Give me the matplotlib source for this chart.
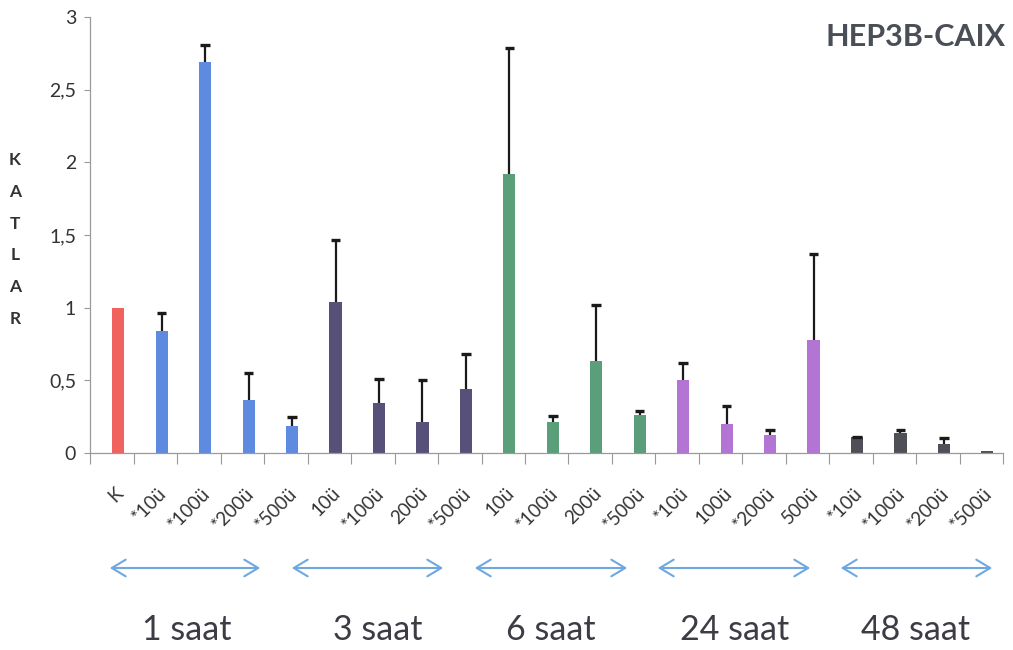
import matplotlib
matplotlib.use("Agg")
import matplotlib.pyplot as plt
import numpy as np

# Categories (doses) and groups (time points)
categories = ["K", "*10ü", "*100ü", "*200ü", "*500ü",
              "10ü", "*100ü", "200ü", "*500ü",
              "10ü", "*100ü", "200ü", "*500ü",
              "*10ü", "100ü", "*200ü", "500ü",
              "*10ü", "*100ü", "*200ü", "*500ü"]
groups = ["1 saat", "3 saat", "6 saat", "24 saat", "48 saat"]

# Fold change (mean) and upper error (SD)
values = [1.00, 0.84, 2.69, 0.365, 0.186,
          1.04, 0.346, 0.21, 0.44,
          1.92, 0.21, 0.633, 0.26,
          0.50, 0.197, 0.124, 0.778,
          0.108, 0.135, 0.06, 0.016]
errors = [0.0, 0.12, 0.12, 0.185, 0.064,
          0.426, 0.164, 0.29, 0.24,
          0.87, 0.045, 0.387, 0.03,
          0.117, 0.123, 0.034, 0.592,
          0.005, 0.023, 0.045, 0.0]

c_ctrl = "#F0625D"
c_1h = "#5E8BE0"
c_3h = "#575179"
c_6h = "#5A9E7A"
c_24h = "#B474D4"
c_48h = "#4F4F57"
bar_colors = ([c_ctrl] + [c_1h] * 4 + [c_3h] * 4 + [c_6h] * 4
              + [c_24h] * 4 + [c_48h] * 4)

W, H = 1013, 650
fig = plt.figure(figsize=(W / 100, H / 100), dpi=100)
plt.rcParams["font.family"] = ["Lato", "DejaVu Sans"]

ax = fig.add_axes([90 / W, 1 - 453 / H, (1003 - 90) / W, (453 - 17) / H])

x = np.arange(len(categories))
vals = np.array(values)
errs = np.array(errors)
ax.bar(x, vals, width=0.28, color=bar_colors, zorder=2)

# Upper-only error bars with a cap at the top
has_err = errs > 0
tops = vals + errs
ax.vlines(x[has_err], vals[has_err], tops[has_err], color="#1a1a1a",
          linewidth=1.6, zorder=3)
ax.hlines(tops[has_err], x[has_err] - 0.11, x[has_err] + 0.11,
          color="#1a1a1a", linewidth=2.4, zorder=3)

ax.set_xlim(-0.65, 20.33)
ax.set_ylim(0, 3)
ax.set_yticks([0, 0.5, 1, 1.5, 2, 2.5, 3])
ax.set_yticklabels(["0", "0,5", "1", "1,5", "2", "2,5", "3"])
ax.tick_params(axis="y", length=4, width=0.8, color="#999999",
               labelsize=14, labelcolor="#333333", pad=6)

ax.set_xticks(x + 0.05)
ax.set_xticklabels(categories, rotation=45, ha="right", va="center",
                   rotation_mode="anchor", fontsize=13.5, color="#333333")
ax.tick_params(axis="x", which="major", length=0, pad=27)
ax.set_xticks(np.arange(-0.64, 20.4, 1.0), minor=True)
ax.tick_params(axis="x", which="minor", length=8, width=0.8, color="#999999")

for side in ("top", "right"):
    ax.spines[side].set_visible(False)
for side in ("left", "bottom"):
    ax.spines[side].set_color("#9a9a9a")
    ax.spines[side].set_linewidth(0.9)

# Vertical stacked y-axis label
for i, ch in enumerate("KATLAR"):
    fig.text(15 / W, 1 - (160 + i * 31.8) / H, ch, ha="center", va="center",
             fontsize=12.5, fontweight="bold", color="#333333")

# Chart title
fig.text(1006 / W, 1 - 37 / H, "HEP3B-CAIX", ha="right", va="center",
         fontsize=22, fontweight="bold", color="#4a4e56")

# Time-group arrows and labels
arrow_spans = [(107, 263), (289, 446), (472, 630), (655, 813), (838, 995)]
label_x = [187, 378, 551, 735, 916]
for (x0, x1), lx, g in zip(arrow_spans, label_x, groups):
    fig.add_artist(matplotlib.patches.FancyArrowPatch(
        (x0 / W, 1 - 568 / H), (x1 / W, 1 - 568 / H),
        transform=fig.transFigure, arrowstyle="<->,head_length=10,head_width=6",
        color="#6FA8E0", linewidth=1.5, mutation_scale=1))
    fig.text(lx / W, 1 - 630 / H, g, ha="center", va="center",
             fontsize=24.5, color="#3c3c44")

fig.savefig("out.png", dpi=100, facecolor="white")
